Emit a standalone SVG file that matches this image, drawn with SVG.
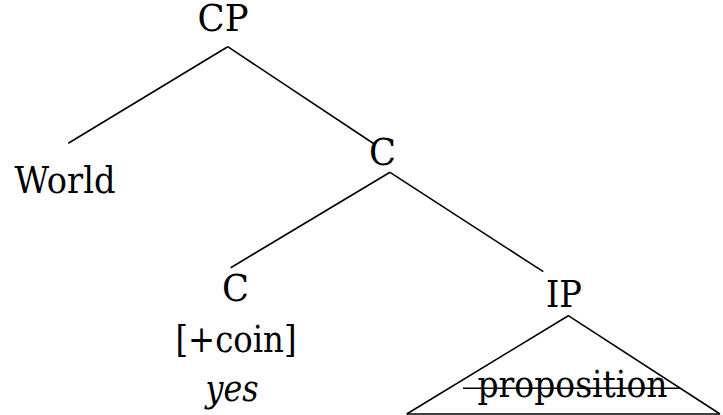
<svg xmlns="http://www.w3.org/2000/svg" width="723" height="415" viewBox="0 0 723 415">
<style>
text{font-family:'DejaVu Serif','Liberation Serif',serif;font-size:38px;fill:#000;text-anchor:middle}
.e{stroke:#000;stroke-width:1.6;fill:none}
</style>
<rect width="723" height="415" fill="#fff"/>
<g id="connectors">
<line class="e" x1="227.7" y1="46.7" x2="68.3" y2="143.3"/>
<line class="e" x1="227.7" y1="46.7" x2="375" y2="144.5"/>
<line class="e" x1="390" y1="172.3" x2="230.7" y2="267.7"/>
<line class="e" x1="390" y1="172.3" x2="543.3" y2="271.7"/>
</g>
<g id="CP"><text x="223" y="30.5" textLength="51" lengthAdjust="spacingAndGlyphs">CP</text></g>
<g id="World"><text x="65" y="193" textLength="101" lengthAdjust="spacingAndGlyphs">World</text></g>
<g id="Cbar"><text x="382.5" y="165" textLength="27" lengthAdjust="spacingAndGlyphs">C</text></g>
<g id="C"><text x="235.5" y="301" textLength="27" lengthAdjust="spacingAndGlyphs">C</text><text x="236" y="352" textLength="121" lengthAdjust="spacingAndGlyphs">[+coin]</text><text x="232" y="401" font-style="italic" textLength="53" lengthAdjust="spacingAndGlyphs">yes</text></g>
<g id="IP"><text x="564" y="307" textLength="36" lengthAdjust="spacingAndGlyphs">IP</text>
<polyline class="e" points="406.7,414 568.3,315.7 720,414"/>
<line class="e" x1="406.7" y1="414" x2="720" y2="414"/>
<text x="572.5" y="397" textLength="190" lengthAdjust="spacingAndGlyphs">proposition</text>
<line class="e" x1="463" y1="388.3" x2="680" y2="388.3"/>
</g>
</svg>
